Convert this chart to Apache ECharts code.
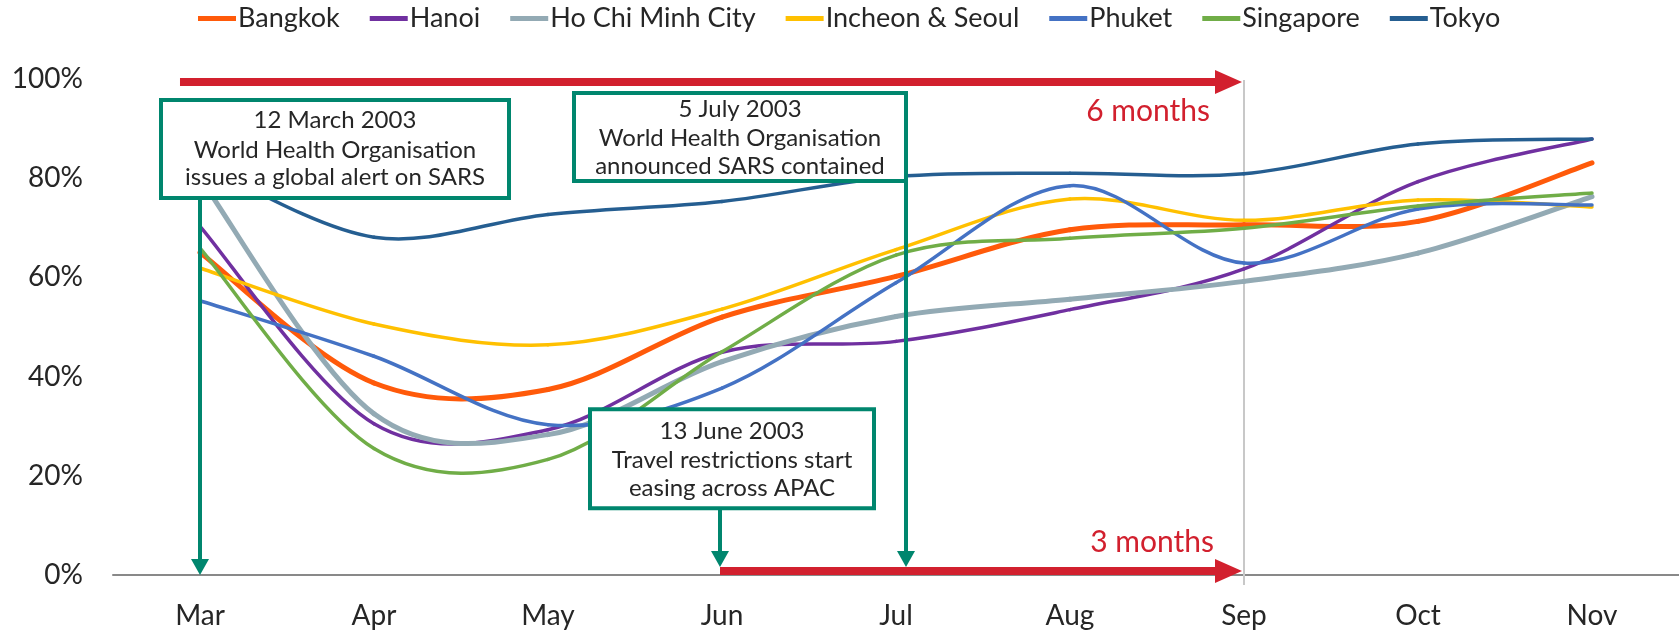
<!DOCTYPE html>
<html>
<head>
<meta charset="utf-8">
<script src="https://cdn.jsdelivr.net/npm/echarts@6/dist/echarts.min.js"></script>
<style>
html,body{margin:0;padding:0;background:#fff;}
#main{width:1679px;height:631px;}
</style>
</head>
<body>
<div id="main"></div>
<script>
const months = ['Mar','Apr','May','Jun','Jul','Aug','Sep','Oct','Nov'];
const seriesNames = ['Bangkok','Hanoi','Ho Chi Minh City','Incheon & Seoul','Phuket','Singapore','Tokyo'];
const bangkok   = [65, 38.7, 37.4, 52, 60.2, 69.6, 70.6, 71.3, 83.1];
const hanoi     = [70.3, 30.5, 29.3, 44.9, 47.1, 53.5, 61.7, 79.3, 87.9];
const hcmc      = [80, 32.5, 28.3, 43, 52.1, 55.6, 59.2, 64.9, 76.3];
const incheon   = [61.9, 50.6, 46.4, 53.6, 65.6, 75.8, 71.5, 75.6, 74.2];
const phuket    = [55.3, 44.1, 30.3, 37.7, 58.9, 78.5, 62.9, 73.8, 74.6];
const singapore = [65.9, 25.5, 23.3, 45, 64.5, 67.9, 69.9, 74.4, 77];
const tokyo     = [83, 68.1, 72.7, 75.3, 80.3, 81, 80.9, 86.9, 87.9];
const yTicks = [0, 20, 40, 60, 80, 100];
const eventTexts = [
  ['12 March 2003', 'World Health Organisation', 'issues a global alert on SARS'],
  ['5 July 2003', 'World Health Organisation', 'announced SARS contained'],
  ['13 June 2003', 'Travel restrictions start', 'easing across APAC']
];
const spanLabels = ['6 months', '3 months'];

const FONT = 'Lato, "Noto Sans", sans-serif';
const TEXT = '#262626';
const TEAL = '#00866E';
const RED = '#D2202E';
const colors = ['#FF5A0A', '#7030A0', '#93AAB4', '#FFC000', '#4472C4', '#70AD47', '#255E91'];
const widths = [5, 3.5, 5, 3.5, 3.5, 3.5, 3.5];
const allData = [bangkok, hanoi, hcmc, incheon, phuket, singapore, tokyo];

// Excel-style smoothed line (Catmull-Rom through every data point), drawn via the axes' scales
function smoothRenderer(arr, color, width) {
  return function (params, api) {
    const i = params.dataIndex;
    if (i >= arr.length - 1) return null;
    const P = (k) => {
      k = Math.max(0, Math.min(arr.length - 1, k));
      return api.coord([k, arr[k]]);
    };
    const p0 = P(i - 1), p1 = P(i), p2 = P(i + 1), p3 = P(i + 2);
    return {
      type: 'bezierCurve',
      shape: {
        x1: p1[0], y1: p1[1], x2: p2[0], y2: p2[1],
        cpx1: p1[0] + (p2[0] - p0[0]) / 6, cpy1: p1[1] + (p2[1] - p0[1]) / 6,
        cpx2: p2[0] - (p3[0] - p1[0]) / 6, cpy2: p2[1] - (p3[1] - p1[1]) / 6
      },
      style: {stroke: color, lineWidth: width, fill: null, lineCap: 'round'}
    };
  };
}

const chart = echarts.init(document.getElementById('main'), null, {renderer: 'canvas'});
chart.setOption({
  animation: false,
  backgroundColor: '#fff',
  textStyle: {fontFamily: FONT},
  color: colors,
  legend: {
    top: 0,
    left: 193,
    itemWidth: 38,
    itemHeight: 5,
    itemGap: 30,
    icon: 'rect',
    textStyle: {fontFamily: FONT, fontSize: 27, color: TEXT, padding: [0, 0, 0, -3]},
    data: seriesNames
  },
  grid: {left: 113, right: 0, top: 79, bottom: 56},
  xAxis: {
    type: 'category',
    data: months,
    boundaryGap: true,
    axisLine: {lineStyle: {color: '#898989', width: 2}},
    axisTick: {show: false},
    axisLabel: {fontFamily: FONT, fontSize: 28, color: TEXT, margin: 27}
  },
  yAxis: {
    type: 'value',
    min: yTicks[0],
    max: yTicks[yTicks.length - 1],
    interval: yTicks[1] - yTicks[0],
    axisLine: {show: false},
    axisTick: {show: false},
    splitLine: {show: false},
    axisLabel: {fontFamily: FONT, fontSize: 28, color: TEXT, margin: 30, formatter: '{value}%'}
  },
  series: seriesNames.map((n, i) => ({
    name: n,
    type: 'custom',
    data: allData[i].map((v, k) => [k, v]),
    encode: {x: 0, y: 1},
    z: 3,
    itemStyle: {color: colors[i]},
    renderItem: smoothRenderer(allData[i], colors[i], widths[i])
  }))
});

const px = (m) => chart.convertToPixel({xAxisIndex: 0}, m);
const py = (v) => chart.convertToPixel({yAxisIndex: 0}, v);
const catW = px(months[1]) - px(months[0]);
const y0 = py(0), y100 = py(100);
const g = [];

function box(x, y, w, h, lines, cx, lineYs) {
  g.push({type: 'rect', z: 100, shape: {x: x, y: y, width: w, height: h},
    style: {fill: '#fff', stroke: TEAL, lineWidth: 4}});
  lines.forEach((t, k) => g.push({type: 'text', z: 101, x: cx, y: lineYs[k],
    style: {text: t, fill: TEXT, font: '24px ' + FONT, align: 'center', verticalAlign: 'middle'}}));
}
function downArrow(x, yTop, yTip, color, z) {
  g.push({type: 'line', z: z, shape: {x1: x, y1: yTop, x2: x, y2: yTip - 12},
    style: {stroke: color, lineWidth: 4}});
  g.push({type: 'polygon', z: z, shape: {points: [[x - 9, yTip - 16], [x + 9, yTip - 16], [x, yTip]]},
    style: {fill: color}});
}
function rightArrow(x1, x2, y) {
  g.push({type: 'line', z: 90, shape: {x1: x1, y1: y, x2: x2 - 20, y2: y},
    style: {stroke: RED, lineWidth: 8}});
  g.push({type: 'polygon', z: 90, shape: {points: [[x2 - 27, y - 12], [x2 - 27, y + 12], [x2, y]]},
    style: {fill: RED}});
}

const xSep = px('Sep');
// Sep reference line
g.push({type: 'line', z: 1, shape: {x1: xSep, y1: y100 + 1, x2: xSep, y2: y0 + 10},
  style: {stroke: '#C8C8C8', lineWidth: 2}});

// 6 months arrow
rightArrow(px('Mar') - 0.115 * catW, xSep - 2, y100 + 3);
g.push({type: 'text', z: 90, x: xSep - 34, y: y100 + 32,
  style: {text: spanLabels[0], fill: RED, font: '30px ' + FONT, align: 'right', verticalAlign: 'middle'}});

// 3 months arrow
const xJunEvt = px('Jun') - 2;
rightArrow(xJunEvt, xSep - 2, y0 - 4);
g.push({type: 'text', z: 90, x: xSep - 30, y: y0 - 33,
  style: {text: spanLabels[1], fill: RED, font: '30px ' + FONT, align: 'right', verticalAlign: 'middle'}});

// Box 1: 12 March
const xMar = px('Mar');
box(xMar - 39, y100 + 21, 348, 98, eventTexts[0], xMar + 135, [y100 + 41, y100 + 71, y100 + 98]);
downArrow(xMar, y100 + 121, y0, TEAL, 95);

// Box 2: 5 July
const xJulEvt = px('Jul') + 10;
box(xJulEvt - 332, y100 + 14, 332, 88, eventTexts[1], xJulEvt - 166, [y100 + 30, y100 + 59, y100 + 87]);
downArrow(xJulEvt, y100 + 14, y0 - 8, TEAL, 102);

// Box 3: 13 June
box(xJunEvt - 130, py(33.4), 284, 99, eventTexts[2], xJunEvt + 12, [py(29), py(23.2), py(17.5)]);
downArrow(xJunEvt, py(33.4) + 99, y0 - 8, TEAL, 102);

chart.setOption({graphic: g});
</script>
</body>
</html>
